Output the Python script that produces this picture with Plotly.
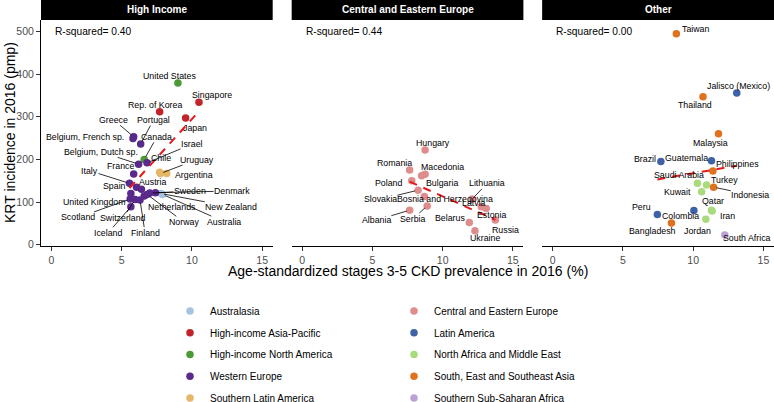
import plotly.graph_objects as go

# ---------------- data ----------------
left_regions = ["Australasia", "High-income Asia-Pacific", "High-income North America",
                "Western Europe", "Southern Latin America"]
right_regions = ["Central and Eastern Europe", "Latin America", "North Africa and Middle East",
                 "South, East and Southeast Asia", "Southern Sub-Saharan Africa"]

panel_titles = ["High Income", "Central and Eastern Europe", "Other"]
r_squared = ["0.40", "0.44", "0.00"]

hi_country = ["United States", "Singapore", "Rep. of Korea", "Japan", "Greece", "Belgium, French sp.",
              "Portugal", "Canada", "Israel", "Belgium, Dutch sp.", "Chile", "Uruguay", "Argentina",
              "France", "Italy", "Spain", "Austria", "Sweden", "Denmark", "Australia", "New Zealand",
              "Netherlands", "Norway", "United Kingdom", "Switzerland", "Finland", "Iceland", "Scotland"]
hi_region = ["High-income North America", "High-income Asia-Pacific", "High-income Asia-Pacific",
             "High-income Asia-Pacific", "Western Europe", "Western Europe", "Western Europe",
             "High-income North America", "Western Europe", "Western Europe", "Southern Latin America",
             "Southern Latin America", "Southern Latin America", "Western Europe", "Western Europe",
             "Western Europe", "Western Europe", "Western Europe", "Western Europe", "Australasia",
             "Australasia", "Western Europe", "Western Europe", "Western Europe", "Western Europe",
             "Western Europe", "Western Europe", "Western Europe"]
hi_ckd = [9.0, 10.5, 7.7, 9.55, 5.85, 5.8, 6.35, 6.6, 6.8, 6.2, 7.7, 7.75, 8.2, 5.85, 5.55, 6.05,
          6.4, 7.0, 7.4, 7.9, 7.8, 6.6, 6.8, 5.65, 5.95, 6.3, 5.65, 5.6]
hi_krt = [379, 334, 312, 297, 253, 249, 236, 200, 192, 189, 170, 167, 167, 166, 144, 135, 130, 121,
          122, 118, 120, 114, 118, 120, 106, 105, 89, 107]

cee_country = ["Hungary", "Romania", "Macedonia", "Bulgaria", "Poland", "Slovakia",
               "Bosnia and Herzegovina", "Albania", "Serbia", "Lithuania", "Latvia", "Estonia",
               "Russia", "Belarus", "Ukraine"]
cee_region = ["Central and Eastern Europe"] * 15
cee_ckd = [8.75, 7.65, 8.75, 8.5, 7.8, 8.25, 8.7, 7.65, 8.9, 12.1, 12.75, 13.1, 13.75, 11.9, 12.3]
cee_krt = [222, 175, 165, 162, 150, 128, 113, 81, 91, 107, 89, 85, 58, 52, 33]

oth_country = ["Taiwan", "Jalisco (Mexico)", "Thailand", "Malaysia", "Brazil", "Guatemala",
               "Philippines", "Saudi Arabia", "Turkey", "Kuwait", "Indonesia", "Qatar", "Iran",
               "Jordan", "Peru", "Colombia", "Bangladesh", "South Africa"]
oth_region = ["South, East and Southeast Asia", "Latin America", "South, East and Southeast Asia",
              "South, East and Southeast Asia", "Latin America", "Latin America",
              "South, East and Southeast Asia", "North Africa and Middle East",
              "North Africa and Middle East", "North Africa and Middle East",
              "South, East and Southeast Asia", "North Africa and Middle East",
              "North Africa and Middle East", "North Africa and Middle East", "Latin America",
              "Latin America", "South, East and Southeast Asia", "Southern Sub-Saharan Africa"]
oth_ckd = [8.8, 13.1, 10.7, 11.8, 7.7, 11.3, 11.4, 10.3, 10.95, 10.6, 11.45, 11.3, 11.35, 10.9,
           7.45, 10.05, 8.45, 12.25]
oth_krt = [495, 356, 347, 260, 195, 197, 173, 144, 140, 124, 135, 81, 79, 60, 71, 80, 51, 23]

# dashed linear-fit lines (end points)
fit_hi_x = [5.55, 10.5]
fit_hi_y = [132.8, 313.0]
fit_cee_x = [7.65, 13.75]
fit_cee_y = [148.0, 58.4]
fit_oth_x = [7.45, 13.1]
fit_oth_y = [153.2, 185.3]

x_ticks = [0, 5, 10, 15]
y_ticks = [0, 100, 200, 300, 400, 500]

# ---------------- styling ----------------
REGION_COLORS = {
    "Australasia": "#a6c3df",
    "High-income Asia-Pacific": "#c2242b",
    "High-income North America": "#4b9a35",
    "Western Europe": "#59298b",
    "Southern Latin America": "#e6b767",
    "Central and Eastern Europe": "#df8c8c",
    "Latin America": "#3e61a8",
    "North Africa and Middle East": "#a9db7c",
    "South, East and Southeast Asia": "#e0711f",
    "Southern Sub-Saharan Africa": "#baa1d6",
}
FONT = "Liberation Sans, Arial, sans-serif"

# label offsets in pixels (dx, dy [down positive], leader line)
LABEL_POS = {
    "United States": (-8, -7, False), "Singapore": (13, -7, False), "Rep. of Korea": (-5, -7, False),
    "Japan": (9, 9.5, False), "Greece": (-20, -17, True), "Belgium, French sp.": (-47.5, -1.5, False),
    "Portugal": (12.6, -24, True), "Canada": (12.7, -22.6, True), "Israel": (45, -18.7, True),
    "Belgium, Dutch sp.": (-38, -12.3, True), "Chile": (1.7, -14.7, False), "Uruguay": (36.7, -14, True),
    "Argentina": (27.3, 1, False), "France": (-13.3, -8, False), "Italy": (-40, -12.6, True),
    "Spain": (-21.7, -1.3, False), "Austria": (10.7, -7, False), "Sweden": (40, -2, True),
    "Denmark": (76.7, -1.7, True), "Australia": (61.3, 27.2, True), "New Zealand": (70.2, 13.2, True),
    "Netherlands": (27.7, 10.7, False), "Norway": (36.6, 27.4, True), "United Kingdom": (-36, 8.4, False),
    "Switzerland": (-11.7, 18, True), "Finland": (5, 32.7, True), "Iceland": (-22.7, 26, True),
    "Scotland": (-51.7, 18.3, True),
    "Hungary": (8.3, -7.3, False), "Romania": (-15.3, -6.7, False), "Macedonia": (17.7, -7.6, False),
    "Bulgaria": (20, 7.6, False), "Poland": (-23.4, 2.6, False), "Slovakia": (-37.7, 9.3, True),
    "Bosnia and Herzegovina": (21, 2.6, False), "Albania": (-33.3, 10, True), "Serbia": (-14, 12.6, True),
    "Lithuania": (15, -15.7, True), "Latvia": (-7.7, -3.4, False), "Estonia": (5.7, 6.7, False),
    "Russia": (10, 10, False), "Belarus": (-19.3, -4.4, False), "Ukraine": (10.3, 7.6, False),
    "Taiwan": (19.5, -4.7, False), "Jalisco (Mexico)": (1.7, -6.7, False), "Thailand": (-7.7, 8.3, False),
    "Malaysia": (-8, 8.7, False), "Brazil": (-16, -2.7, False), "Guatemala": (-25.3, -3, False),
    "Philippines": (24.4, -7, False), "Saudi Arabia": (-18.7, -8.3, False), "Turkey": (18.3, -5, False),
    "Kuwait": (-24.3, 0.3, False), "Indonesia": (36.7, 7.7, True), "Qatar": (1.7, -9.3, False),
    "Iran": (15.3, 5, False), "Jordan": (-8, 11.7, False), "Peru": (-16, -7, False),
    "Colombia": (-13.3, 5.3, False), "Bangladesh": (-19.3, 8, False), "South Africa": (22, 3.3, False),
}

W, H = 774, 402
ML, MR, MT, MB = 41, 0, 20, 156
PW, PH = W - ML - MR, H - MT - MB
domains = [[0.0, 0.3161], [0.3420, 0.6581], [0.6837, 1.0]]
XR = [-0.75, 15.75]
YR = [-3, 527]

panels = [
    (hi_country, hi_region, hi_ckd, hi_krt, fit_hi_x, fit_hi_y),
    (cee_country, cee_region, cee_ckd, cee_krt, fit_cee_x, fit_cee_y),
    (oth_country, oth_region, oth_ckd, oth_krt, fit_oth_x, fit_oth_y),
]

fig = go.Figure()
annotations = []
shapes = []
all_regions = left_regions + right_regions

for p, (names, regs, xs, ys, fx, fy) in enumerate(panels):
    xa = "x" if p == 0 else f"x{p + 1}"
    ya = "y" if p == 0 else f"y{p + 1}"
    for reg in all_regions:
        idx = [i for i, r in enumerate(regs) if r == reg]
        if not idx:
            continue
        fig.add_trace(go.Scatter(
            x=[xs[i] for i in idx], y=[ys[i] for i in idx], mode="markers",
            name=reg, xaxis=xa, yaxis=ya,
            marker=dict(size=7.5, color=REGION_COLORS[reg], line=dict(width=0)),
            legend="legend" if reg in left_regions else "legend2",
            legendgroup=reg, legendrank=all_regions.index(reg) + 1,
            hoverinfo="skip",
        ))
    fig.add_trace(go.Scatter(x=fx, y=fy, mode="lines", xaxis=xa, yaxis=ya, showlegend=False,
                             line=dict(color="#e41a1c", width=2, dash="8px,7px"), hoverinfo="skip"))
    for n, x, y in zip(names, xs, ys):
        dx, dy, line = LABEL_POS[n]
        if line:
            annotations.append(dict(x=x, y=y, xref=xa, yref=ya, text=n, showarrow=True,
                                    ax=dx, ay=dy, arrowhead=0, arrowwidth=0.8, arrowcolor="black",
                                    standoff=3, font=dict(size=8.8, color="black", family=FONT),
                                    borderpad=0))
        else:
            annotations.append(dict(x=x, y=y, xref=xa, yref=ya, text=n, showarrow=False,
                                    xshift=dx, yshift=-dy,
                                    font=dict(size=8.8, color="black", family=FONT)))
    # R-squared text
    annotations.append(dict(x=0.1, y=500, xref=xa, yref=ya, text="R-squared= " + r_squared[p],
                            showarrow=False, xanchor="left", yanchor="middle",
                            font=dict(size=10.2, color="black", family=FONT)))
    # strip
    d0, d1 = domains[p]
    shapes.append(dict(type="rect", xref="paper", yref="paper", x0=d0, x1=d1, y0=1.0,
                       y1=1 + MT / PH, fillcolor="black", line=dict(width=0), layer="above"))
    annotations.append(dict(x=(d0 + d1) / 2, y=1 + (MT / 2) / PH, xref="paper", yref="paper",
                            text=panel_titles[p], showarrow=False, xanchor="center", yanchor="middle",
                            font=dict(size=10, color="white", family=FONT, weight="bold")))

# axis titles
annotations.append(dict(x=0.5, y=-(271 - (MT + PH)) / PH, xref="paper", yref="paper",
                        text="Age-standardized stages 3-5 CKD prevalence in 2016 (%)",
                        showarrow=False, xanchor="center", yanchor="middle",
                        font=dict(size=14, color="black", family=FONT)))
annotations.append(dict(x=-(ML - 10) / PW, y=0.5, xref="paper", yref="paper",
                        text="KRT incidence in 2016 (pmp)", textangle=-90,
                        showarrow=False, xanchor="center", yanchor="middle",
                        font=dict(size=14, color="black", family=FONT)))

xaxis_common = dict(range=XR, tickvals=x_ticks, showgrid=False, zeroline=False, showline=True,
                    linecolor="black", linewidth=1, ticks="outside", ticklen=4, tickcolor="#333333",
                    tickfont=dict(size=10.5, color="#4d4d4d", family=FONT), fixedrange=True)
layout = dict(
    width=W, height=H, margin=dict(l=ML, r=MR, t=MT, b=MB, autoexpand=False),
    paper_bgcolor="white", plot_bgcolor="white",
    annotations=annotations, shapes=shapes,
    font=dict(family=FONT),
)
for p in range(3):
    xk = "xaxis" if p == 0 else f"xaxis{p + 1}"
    yk = "yaxis" if p == 0 else f"yaxis{p + 1}"
    layout[xk] = dict(xaxis_common, domain=domains[p], anchor="y" if p == 0 else f"y{p + 1}")
    if p == 0:
        layout[yk] = dict(range=YR, tickvals=y_ticks, showgrid=False, zeroline=False, showline=True,
                          linecolor="black", linewidth=1, ticks="outside", ticklen=4,
                          tickcolor="#333333", anchor="x",
                          tickfont=dict(size=10.5, color="#4d4d4d", family=FONT), fixedrange=True)
    else:
        layout[yk] = dict(range=YR, showgrid=False, zeroline=False, showline=False,
                          showticklabels=False, ticks="", anchor=f"x{p + 1}", fixedrange=True)

legend_common = dict(xref="container", yref="container", xanchor="left", yanchor="top",
                     bgcolor="rgba(0,0,0,0)", font=dict(size=10, color="black", family=FONT),
                     tracegroupgap=2.75, orientation="v", itemclick=False, itemdoubleclick=False)
layout["legend"] = dict(legend_common, x=170 / W, y=1 - 296.5 / H)
layout["legend2"] = dict(legend_common, x=394 / W, y=1 - 296.5 / H)

fig.update_layout(**layout)
fig.write_html("out.html", config={"displayModeBar": False},
               post_script="document.body.style.margin='0px';document.body.style.overflow='hidden';")
